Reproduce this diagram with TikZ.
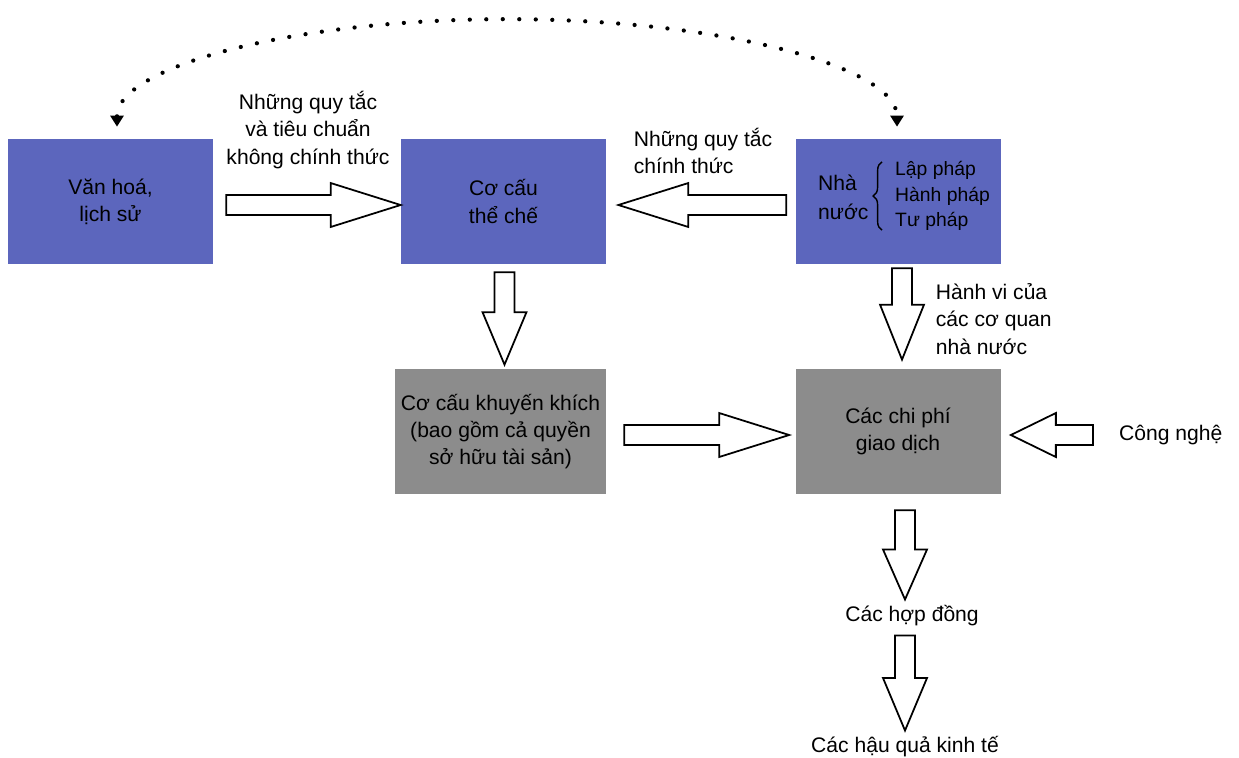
\documentclass[tikz,border=0pt]{standalone}
\usepackage{fontspec}
\setmainfont{Liberation Sans}
\usetikzlibrary{calc,arrows.meta,decorations.pathreplacing}
\definecolor{boxblue}{RGB}{92,102,189}
\definecolor{boxgray}{RGB}{140,140,140}

\begin{document}
\begin{tikzpicture}[x=0.2mm,y=-0.2mm,
    font=\fontsize{12}{15.5}\selectfont,
    bluebox/.style ={fill=boxblue, minimum width=41mm, minimum height=25mm, align=center},
    graybox/.style ={fill=boxgray, minimum width=41mm, minimum height=25mm, align=center},
    lbl/.style ={inner sep=2pt},
    dotline/.style ={line width=0.85mm, dash pattern=on 0pt off 3.3mm, line cap=round,
      {Triangle[width=2.6mm,length=2.2mm]}-{Triangle[width=2.6mm,length=2.2mm]}},
    fatarrow/.style ={draw, fill=white, line width=1pt, line join=miter,
      to path={($(\tikztostart)!2mm!90:(\tikztotarget)$)
        -- ($(\tikztotarget)!#1!(\tikztostart)!2mm!90:(\tikztotarget)$)
        -- ($(\tikztotarget)!#1!(\tikztostart)!4.4mm!90:(\tikztotarget)$)
        -- (\tikztotarget)
        -- ($(\tikztotarget)!#1!(\tikztostart)!4.4mm!-90:(\tikztotarget)$)
        -- ($(\tikztotarget)!#1!(\tikztostart)!2mm!-90:(\tikztotarget)$)
        -- ($(\tikztostart)!2mm!-90:(\tikztotarget)$) -- cycle}},
    fatarrow/.default=14mm]
   \useasboundingbox (0,0) rectangle (1239,757);
   % boxes
   \node[bluebox] (vanhoa) at (110.5,201.5) {Văn hoá,\\lịch sử};
   \node[bluebox] (coche) at (503.5,201.5) {Cơ cấu\\thể chế};
   \node[bluebox] (nhanuoc) at (898,201.5) {};
   \node[graybox] (khuyenkhich) at (500.5,431.5)
     {Cơ cấu khuyến khích\\(bao gồm cả quyền\\sở hữu tài sản)};
   \node[graybox] (chiphi) at (898,431.5) {Các chi phí\\giao dịch};
   % inside the state box
   \node[anchor=west, align=left, font=\fontsize{12}{16.5}\selectfont] (nhanuoctxt) at (812,197) {Nhà\\nước};
   \node[anchor=west, align=left, font=\fontsize{11}{14.7}\selectfont] (quyen) at (889,196)
     {Lập pháp\\Hành pháp\\Tư pháp};
   \draw[thick, decorate, decoration={brace, amplitude=5pt}]
     ([xshift=-1.4mm,yshift=1.4mm]quyen.south west) to ([xshift=-1.4mm,yshift=-1.4mm]quyen.north west);
   % labels
   \node[lbl, align=center] (khongct) at (308,130)
     {Những quy tắc\\và tiêu chuẩn\\không chính thức};
   \node[lbl, align=left, anchor=west] (chinhthuc) at (630,151)
     {Những quy tắc\\chính thức};
   \node[lbl, align=left, anchor=west] (hanhvi) at (932,319)
     {Hành vi của\\các cơ quan\\nhà nước};
   \node[anchor=west] (congnghe) at (1113,435) {Công nghệ};
   \node (hopdong) at (912,616) {Các hợp đồng};
   \node (hauqua) at (905,747) {Các hậu quả kinh tế};
   % arrows
   \draw[fatarrow] ([xshift=2.6mm,yshift=-0.7mm]vanhoa.east) to ([yshift=-0.7mm]coche.west);
   \draw[fatarrow] ([xshift=-1.8mm,yshift=-0.7mm]nhanuoc.west) to ([xshift=2.4mm,yshift=-0.7mm]coche.east);
   \draw[fatarrow=10.5mm] ([xshift=0.2mm,yshift=-1.6mm]coche.south) to ([xshift=0.8mm,yshift=0.8mm]khuyenkhich.north);
   \draw[fatarrow=11mm] ([xshift=0.8mm,yshift=-0.8mm]nhanuoc.south) to ([xshift=0.8mm,yshift=1.8mm]chiphi.north);
   \draw[fatarrow] ([xshift=3.6mm,yshift=-0.7mm]khuyenkhich.east) to ([xshift=-1.2mm,yshift=-0.7mm]chiphi.west);
   \draw[fatarrow=9mm] ([xshift=-4mm]congnghe.west) to ([xshift=2mm,yshift=-0.7mm]chiphi.east);
   \draw[fatarrow=10mm] ([xshift=1.4mm,yshift=-3.2mm]chiphi.south) to ([xshift=-1.4mm]hopdong.north);
   \draw[fatarrow=10.5mm] ([xshift=-1.4mm,yshift=-0.6mm]hopdong.south) to (hauqua.north);
   % dotted link
   \draw[dotline] ([xshift=1.3mm,yshift=2.4mm]vanhoa.north) arc[start angle=180, end angle=0, x radius=78mm, y radius=21.5mm];
 \end{tikzpicture}
\end{document}
